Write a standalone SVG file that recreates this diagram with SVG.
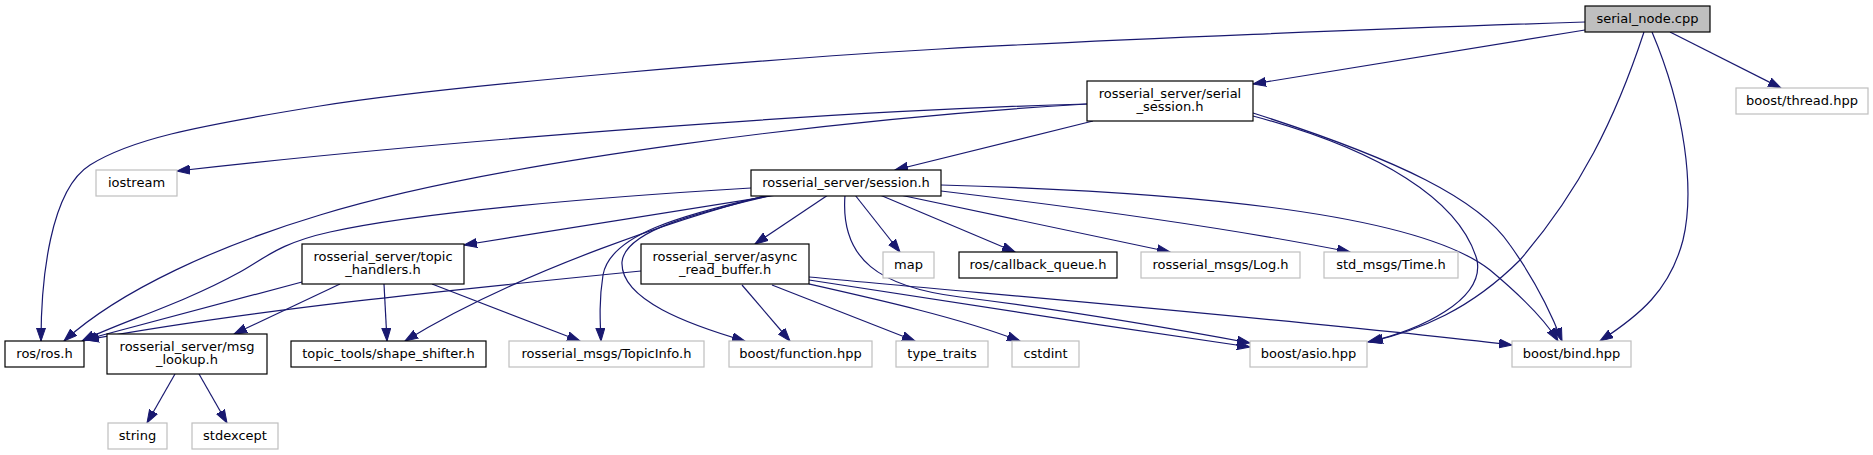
<svg xmlns="http://www.w3.org/2000/svg" width="1873" height="455" viewBox="0 0 1873 455">
<style>
.n rect{fill:#ffffff;stroke:#000000;stroke-width:1.2}
.x rect{fill:#ffffff;stroke:#bfbfbf;stroke-width:1.2}
.r rect{fill:#bfbfbf;stroke:#000000;stroke-width:1.2}
text{font-family:"DejaVu Sans","Liberation Sans",sans-serif;font-size:13px;fill:#000000;text-anchor:middle}
#edges path{fill:none;stroke:#191970;stroke-width:1.2;marker-end:url(#ah)}
</style>
<defs>
<marker id="ah" markerUnits="userSpaceOnUse" markerWidth="14" markerHeight="10" refX="13" refY="5" orient="auto">
<path d="M0,0.5 L13,5 L0,9.5 z" fill="#191970" stroke="#191970" stroke-width="1"/>
</marker>
</defs>
<rect width="1873" height="455" fill="#ffffff"/>
<g id="edges">
<path d="M1585,22 C1400,28 1100,40 940,49 S450,85 320,106 S130,140 90,165 S41,280 41,341"/>
<path d="M1585,30 L1253,84"/>
<path d="M1670,32 L1781,88"/>
<path d="M1644,32 C1615,120 1580,190 1520,260 C1470,310 1420,330 1370,342"/>
<path d="M1652,32 C1685,110 1695,190 1683,240 C1670,290 1640,315 1600,341"/>
<path d="M1087,104 C850,110 450,140 177,171"/>
<path d="M1087,104 C850,118 500,160 320,215 C220,245 120,290 64,341"/>
<path d="M1093,121 L895,170"/>
<path d="M1253,116 C1380,150 1460,200 1477,260 C1485,300 1420,330 1368,342"/>
<path d="M1253,113 C1400,160 1480,200 1510,245 C1535,280 1550,310 1562,341"/>
<path d="M751,188 C600,197 420,212 330,232 C280,243 265,258 240,272 C180,305 120,322 82,341"/>
<path d="M777,195 L464,245"/>
<path d="M768,195 C690,215 520,270 405,341"/>
<path d="M770,195 C680,215 610,235 603,275 C599,300 600,320 601,341"/>
<path d="M773,195 C700,212 625,230 622,262 C620,300 690,325 745,341"/>
<path d="M828,195 L755,244"/>
<path d="M855,195 L900,252"/>
<path d="M845,195 C840,260 880,287 960,297 C1080,312 1180,330 1250,343"/>
<path d="M880,195 L1015,252"/>
<path d="M900,195 L1170,252"/>
<path d="M941,191 C1100,210 1250,232 1350,252"/>
<path d="M941,185 C1200,192 1420,215 1490,270 C1520,295 1545,320 1558,341"/>
<path d="M302,282 L84,340"/>
<path d="M340,284 L234,334"/>
<path d="M384,284 L387,341"/>
<path d="M432,284 L580,341"/>
<path d="M175,374 L147,423"/>
<path d="M199,374 L227,423"/>
<path d="M641,271 C450,290 250,310 86,340"/>
<path d="M742,285 L790,341"/>
<path d="M772,285 L915,341"/>
<path d="M809,284 C880,300 960,318 1020,341"/>
<path d="M809,280 C900,295 1100,325 1250,347"/>
<path d="M809,277 C1000,295 1300,320 1512,345"/>
</g>
<g id="serial_node" class="r"><rect x="1585" y="6" width="125" height="26"/><text x="1647.5" y="23">serial_node.cpp</text></g>
<g id="thread" class="x"><rect x="1736" y="88" width="132" height="26"/><text x="1802" y="105">boost/thread.hpp</text></g>
<g id="serial_session" class="n"><rect x="1087" y="81" width="166" height="40"/><text x="1170" y="97.5">rosserial_server/serial</text><text x="1170" y="111">_session.h</text></g>
<g id="iostream" class="x"><rect x="96" y="170" width="81" height="26"/><text x="136.5" y="187">iostream</text></g>
<g id="session" class="n"><rect x="751" y="170" width="190" height="26"/><text x="846" y="187">rosserial_server/session.h</text></g>
<g id="topic_handlers" class="n"><rect x="302" y="244" width="162" height="40"/><text x="383" y="260.5">rosserial_server/topic</text><text x="383" y="274">_handlers.h</text></g>
<g id="async_read_buffer" class="n"><rect x="641" y="244" width="168" height="40"/><text x="725" y="260.5">rosserial_server/async</text><text x="725" y="274">_read_buffer.h</text></g>
<g id="map" class="x"><rect x="883" y="252" width="51" height="26"/><text x="908.5" y="269">map</text></g>
<g id="callback_queue" class="n"><rect x="959" y="252" width="158" height="26"/><text x="1038" y="269">ros/callback_queue.h</text></g>
<g id="log" class="x"><rect x="1141" y="252" width="159" height="26"/><text x="1220.5" y="269">rosserial_msgs/Log.h</text></g>
<g id="time" class="x"><rect x="1324" y="252" width="134" height="26"/><text x="1391" y="269">std_msgs/Time.h</text></g>
<g id="ros" class="n"><rect x="5" y="341" width="79" height="26"/><text x="44.5" y="358">ros/ros.h</text></g>
<g id="msg_lookup" class="n"><rect x="107" y="334" width="160" height="40"/><text x="187" y="350.5">rosserial_server/msg</text><text x="187" y="364">_lookup.h</text></g>
<g id="shape_shifter" class="n"><rect x="291" y="341" width="195" height="26"/><text x="388.5" y="358">topic_tools/shape_shifter.h</text></g>
<g id="topicinfo" class="x"><rect x="509" y="341" width="195" height="26"/><text x="606.5" y="358">rosserial_msgs/TopicInfo.h</text></g>
<g id="function" class="x"><rect x="729" y="341" width="143" height="26"/><text x="800.5" y="358">boost/function.hpp</text></g>
<g id="type_traits" class="x"><rect x="896" y="341" width="92" height="26"/><text x="942" y="358">type_traits</text></g>
<g id="cstdint" class="x"><rect x="1012" y="341" width="67" height="26"/><text x="1045.5" y="358">cstdint</text></g>
<g id="asio" class="x"><rect x="1250" y="341" width="117" height="26"/><text x="1308.5" y="358">boost/asio.hpp</text></g>
<g id="bind" class="x"><rect x="1512" y="341" width="119" height="26"/><text x="1571.5" y="358">boost/bind.hpp</text></g>
<g id="string" class="x"><rect x="108" y="423" width="59" height="26"/><text x="137.5" y="440">string</text></g>
<g id="stdexcept" class="x"><rect x="192" y="423" width="86" height="26"/><text x="235" y="440">stdexcept</text></g>
</svg>
